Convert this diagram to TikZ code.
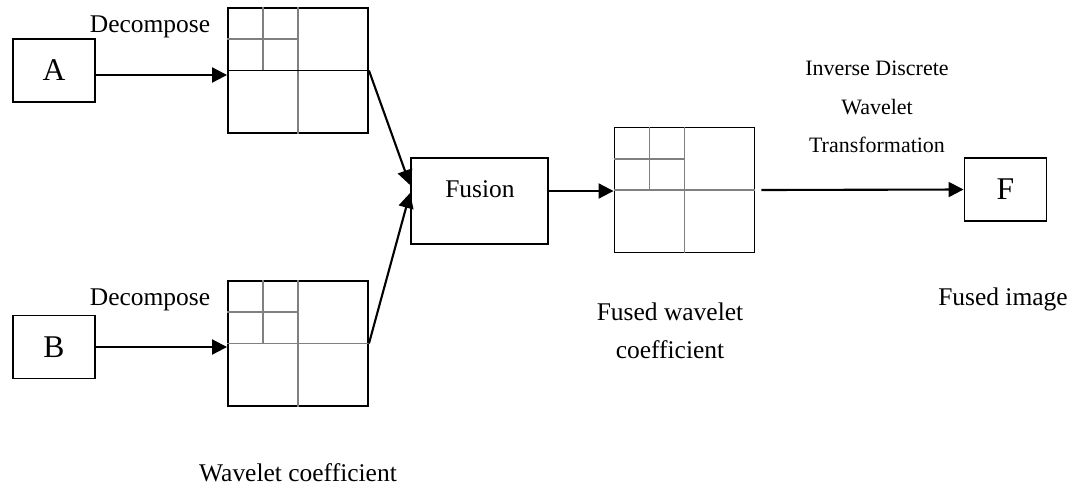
\documentclass[tikz,border=0pt]{standalone}
\usepackage{fontspec}
\setmainfont{Liberation Serif}
\usetikzlibrary{arrows.meta, positioning}

\tikzset{
  blockbox/.style={draw=black, line width=1.1pt, inner sep=0pt, minimum width=1.64cm, minimum height=1.26cm, font=\fontsize{18}{20}\selectfont},
  fusebox/.style={draw=black, line width=1.1pt, inner sep=0pt, minimum width=2.74cm, minimum height=1.72cm},
  gridbox/.style={draw=black, line width=1.1pt, inner sep=0pt, minimum width=2.8cm, minimum height=2.5cm},
  subline/.style={draw=black!50, line width=1.1pt},
  midline/.style={draw=black, line width=1pt},
  flowarrow/.style={line width=1.2pt, -{Triangle[length=3mm, width=3mm]}},
  lbl/.style={inner sep=0pt, font=\fontsize{14.5}{17}\selectfont},
  smalllbl/.style={inner sep=0pt, align=center, font=\fontsize{12.5}{22}\selectfont}
}

\begin{document}
\begin{tikzpicture}[x=0.02cm, y=-0.02cm]
\useasboundingbox (0,0) rectangle (1076,488);

% inputs
\node[blockbox] (A) at (54,70.5) {A};
\node[blockbox] (B) at (54,347) {B};
\node[lbl] (deca) at (150,27) {Decompose};
\node[lbl] (decb) at (150,300) {Decompose};

% wavelet coefficient grids
\node[gridbox] (wtop) at (298,70.5) {};
\node[gridbox] (wbot) at (298,343.5) {};
\node[gridbox] (wfus) at (684.5,190) {};

\draw[subline] (wtop.north) -- (wtop.south);
\draw[subline] ([xshift=-0.7cm]wtop.north) -- ([xshift=-0.7cm]wtop.center);
\draw[subline] ([yshift=0.625cm]wtop.west) -- ([yshift=0.625cm]wtop.center);
\draw[midline] (wtop.west) -- (wtop.east);

\draw[subline] (wbot.north) -- (wbot.south);
\draw[subline] (wbot.west) -- (wbot.east);
\draw[subline] ([xshift=-0.7cm]wbot.north) -- ([xshift=-0.7cm]wbot.center);
\draw[subline] ([yshift=0.625cm]wbot.west) -- ([yshift=0.625cm]wbot.center);

\draw[subline] (wfus.north) -- (wfus.south);
\draw[subline] (wfus.west) -- (wfus.east);
\draw[subline] ([xshift=-0.7cm]wfus.north) -- ([xshift=-0.7cm]wfus.center);
\draw[subline] ([yshift=0.625cm]wfus.west) -- ([yshift=0.625cm]wfus.center);

\node[lbl] (wcoef) at (298,473) {Wavelet coefficient};

% fusion
\node[fusebox] (fusion) at (479.5,201) {};
\node[lbl] (fusiontxt) at (480,189) {Fusion};
\node[lbl, align=center, font=\fontsize{14.5}{21.5}\selectfont] (fcoef) at (670,331) {Fused wavelet\\coefficient};

% output
\node[blockbox] (F) at (1005.5,189.5) {F};
\node[smalllbl] (idwt) at (877,107) {Inverse Discrete\\Wavelet\\Transformation};
\node[lbl] (fimg) at (1003,299) {Fused image};

% arrows
\draw[flowarrow] ([yshift=-0.09cm]A.east) -- ([yshift=-0.09cm]wtop.west);
\draw[flowarrow] (B.east) -- (B.east -| wbot.west);
\draw[flowarrow] (wtop.east) -- ([yshift=0.32cm]fusion.west);
\draw[flowarrow] (wbot.east) -- ([yshift=0.16cm]fusion.west);
\draw[flowarrow] ([yshift=0.2cm]fusion.east) -- ([yshift=0.2cm]fusion.east -| wfus.west);
\draw[flowarrow] ([xshift=0.12cm]wfus.east) -- (F.west);
\end{tikzpicture}
\end{document}
